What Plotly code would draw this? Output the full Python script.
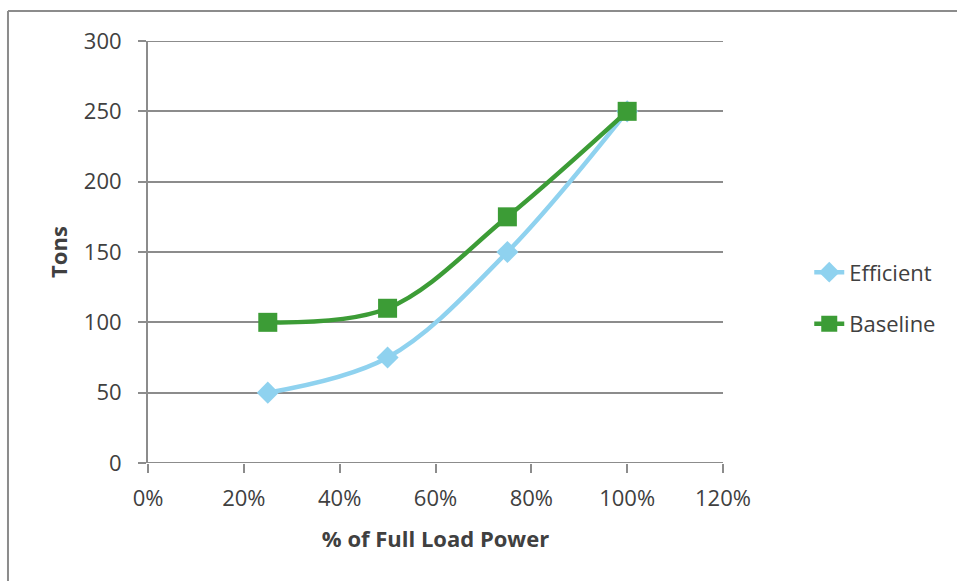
import plotly.graph_objects as go

load_pct = [25, 50, 75, 100]
efficient_tons = [50, 75, 150, 250]
baseline_tons = [100, 110, 175, 250]

x_ticks = [0, 20, 40, 60, 80, 100, 120]
y_ticks = [0, 50, 100, 150, 200, 250, 300]

FONT = "Open Sans, Lato, sans-serif"
TEXT = "#404040"
GRID = "#8c8c8c"

fig = go.Figure()
fig.add_trace(go.Scatter(
    x=load_pct, y=efficient_tons, name="Efficient", mode="lines+markers",
    legendgroup="eff",
    line=dict(color="#8fd2ef", width=4.5, shape="spline", smoothing=1),
    marker=dict(symbol="diamond", size=17, color="#8fd2ef"),
))
fig.add_trace(go.Scatter(
    x=load_pct, y=baseline_tons, name="Baseline", mode="lines+markers",
    legendgroup="base",
    line=dict(color="#3c9c36", width=4.5, shape="spline", smoothing=1),
    marker=dict(symbol="square", size=19, color="#3c9c36"),
))

fig.update_layout(
    width=957, height=581,
    margin=dict(l=148, r=234, t=41, b=118),
    paper_bgcolor="white", plot_bgcolor="white",
    font=dict(family=FONT, size=22, color=TEXT),
    showlegend=True,
    legend=dict(x=1.15, y=0.39, xanchor="left", yanchor="middle",
                font=dict(size=22, color=TEXT), itemsizing="trace",
                tracegroupgap=20, bgcolor="rgba(0,0,0,0)"),
    xaxis=dict(
        range=[0, 120], tickvals=x_ticks, ticktext=[f"{v}%" for v in x_ticks],
        showgrid=False, zeroline=False, showline=False,
        ticks="outside", ticklen=9, tickwidth=2, tickcolor=GRID,
        ticklabelstandoff=7,
        title=dict(text="<b>% of Full Load Power</b>", font=dict(size=22, color=TEXT), standoff=20),
    ),
    yaxis=dict(
        range=[0, 300], tickvals=y_ticks,
        showgrid=True, gridcolor=GRID, gridwidth=2,
        zeroline=False, showline=True, linecolor=GRID, linewidth=2,
        ticks="outside", ticklen=8, tickwidth=2, tickcolor=GRID,
        ticklabelstandoff=12,
        title=dict(text="<b>Tons</b>", font=dict(size=22, color=TEXT), standoff=10),
    ),
    shapes=[
        # chart-area frame (top and left edges)
        dict(type="line", xref="paper", yref="paper", x0=-0.2435, x1=1.5, y0=1.0711, y1=1.0711,
             line=dict(color="#8c8c8c", width=2)),
        dict(type="line", xref="paper", yref="paper", x0=-0.2435, x1=-0.2435, y0=1.0711, y1=-0.5,
             line=dict(color="#8c8c8c", width=2)),
        # grid lines at the range ends
        dict(type="line", xref="x", yref="y", x0=0, x1=120, y0=0, y1=0, layer="below",
             line=dict(color=GRID, width=2)),
        dict(type="line", xref="x", yref="y", x0=0, x1=120, y0=300, y1=300, layer="below",
             line=dict(color=GRID, width=2)),
    ],
)

fig.write_html("out.html")
